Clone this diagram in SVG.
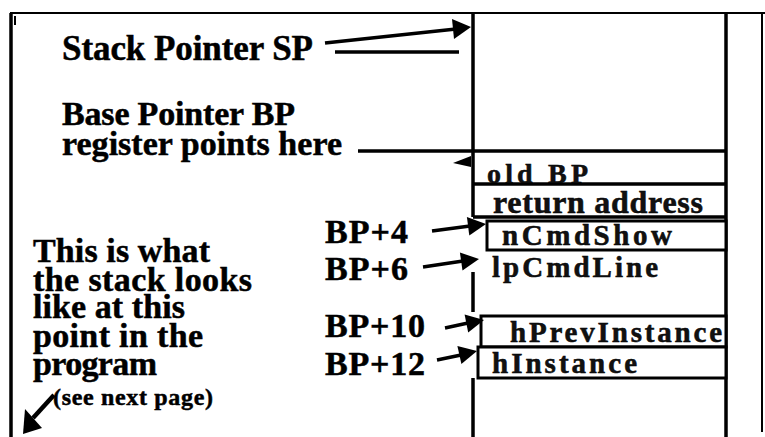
<svg xmlns="http://www.w3.org/2000/svg" width="765" height="437" viewBox="0 0 765 437">
<defs>
<style>
.t{font-family:"Liberation Serif","Times New Roman",serif;font-weight:bold;fill:#000;stroke:#000;stroke-width:0.5;font-size:34px}
.s{font-size:24px}
.c{font-size:29px;fill:#111}
.ln{stroke:#000;stroke-width:3.5;fill:none}
.thin{stroke:#000;stroke-width:2;fill:none}
.box{stroke:#000;stroke-width:3;fill:#fff}
.head{fill:#000;stroke:none}
</style>
</defs>
<rect width="765" height="437" fill="#fff"/>
<g id="frame">
<line class="thin" x1="10" y1="13" x2="765" y2="13"/>
<line class="ln" x1="11" y1="13" x2="11" y2="437"/>
<line class="thin" x1="15" y1="16" x2="15" y2="25"/>
<line class="thin" x1="762" y1="13" x2="762" y2="432"/>
</g>
<g id="stack">
<line class="ln" x1="473" y1="13" x2="473" y2="217"/>
<line class="ln" x1="473" y1="272" x2="473" y2="312"/>
<line class="ln" x1="473" y1="378" x2="473" y2="437"/>
<line class="ln" x1="726" y1="13" x2="726" y2="437"/>
<line class="ln" x1="473" y1="184" x2="726" y2="184"/>
<line class="ln" x1="473" y1="217" x2="726" y2="217"/>
</g>
<g id="cell-oldbp"><text class="t c" x="487" y="183" style="font-size:28px" textLength="101">old BP</text></g>
<g id="cell-return"><text class="t c" x="493" y="213" style="font-size:32px" textLength="210">return address</text></g>
<g id="cell-ncmdshow">
<rect class="box" x="487" y="221" width="239" height="29"/>
<text class="t c" x="502" y="245" textLength="170">nCmdShow</text>
</g>
<g id="cell-lpcmdline"><text class="t c" x="492" y="277" textLength="166">lpCmdLine</text></g>
<g id="cell-hprev">
<rect class="box" x="481" y="316" width="245" height="31"/>
<text class="t c" x="510" y="342" textLength="212">hPrevInstance</text>
</g>
<g id="cell-hinst">
<rect class="box" x="478" y="347" width="248" height="31"/>
<text class="t c" x="492" y="373" textLength="145">hInstance</text>
</g>
<g id="label-sp"><text class="t" x="62" y="60" style="font-size:35px" textLength="251">Stack Pointer SP</text></g>
<g id="label-bp">
<text class="t" x="62" y="125" textLength="233">Base Pointer BP</text>
<text class="t" x="62" y="155" textLength="280">register points here</text>
</g>
<g id="label-note">
<text class="t" x="33" y="262" textLength="177">This is what</text>
<text class="t" x="33" y="291" textLength="219">the stack looks</text>
<text class="t" x="33" y="318" textLength="152">like at this</text>
<text class="t" x="33" y="347" textLength="170">point in the</text>
<text class="t" x="33" y="375" textLength="124">program</text>
<text class="t s" x="53" y="405" textLength="160">(see next page)</text>
</g>
<g id="label-bp4"><text class="t" x="325" y="243" textLength="83">BP+4</text></g>
<g id="label-bp6"><text class="t" x="325" y="280" textLength="83">BP+6</text></g>
<g id="label-bp10"><text class="t" x="325" y="337" textLength="100">BP+10</text></g>
<g id="label-bp12"><text class="t" x="325" y="375" textLength="100">BP+12</text></g>
<g id="connectors">
<line class="ln" x1="325" y1="43" x2="456" y2="29"/>
<polygon class="head" points="471,27 454,39 452,19"/>
<line class="ln" x1="335" y1="52" x2="459" y2="52"/>
<line class="ln" x1="358" y1="151" x2="726" y2="151"/>
<polygon class="head" points="453,163 471,156 471,167"/>
<line class="ln" x1="432" y1="231" x2="470" y2="226"/>
<polygon class="head" points="486,224 469.3,235.5 466.9,217"/>
<line class="ln" x1="423" y1="267" x2="463" y2="261"/>
<polygon class="head" points="479,259 462.5,270.5 459.9,252.5"/>
<line class="ln" x1="445" y1="328" x2="468" y2="323"/>
<polygon class="head" points="484,320 468.2,332.5 464.6,314.5"/>
<line class="ln" x1="437" y1="360" x2="461" y2="355"/>
<polygon class="head" points="477,351 461.4,364 457.4,346"/>
<line style="stroke:#000;stroke-width:4.5" x1="54" y1="395" x2="33" y2="418"/>
<polygon class="head" points="23,434 25,409 42,428"/>
</g>
</svg>
